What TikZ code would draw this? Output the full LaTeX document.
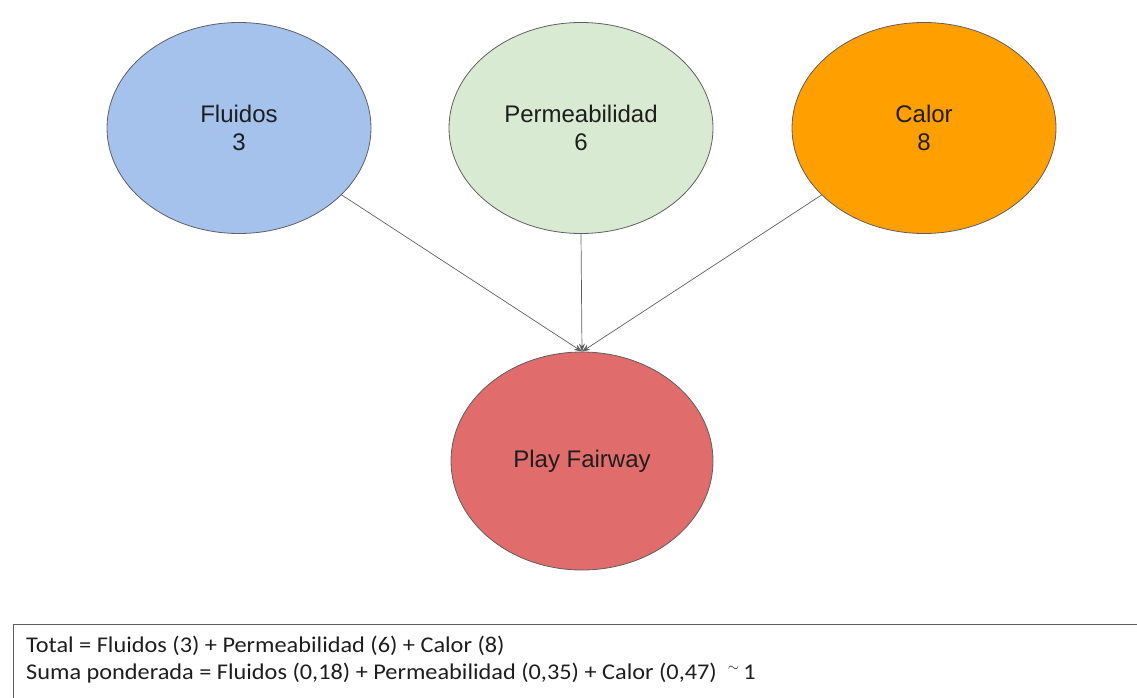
\documentclass[tikz,border=0pt]{standalone}
\usepackage{fontspec}
\setmainfont{Liberation Sans}
\newfontfamily\boxfont[FakeStretch=1.08]{Carlito}
\usetikzlibrary{positioning,shapes.geometric,arrows.meta}

\definecolor{fluidblue}{RGB}{164,194,236}
\definecolor{permgreen}{RGB}{217,234,211}
\definecolor{calororange}{RGB}{255,160,0}
\definecolor{playred}{RGB}{224,108,108}
\definecolor{edgegray}{RGB}{95,95,95}
\definecolor{textgray}{RGB}{30,30,30}

\newcommand{\TOPY}{128}
\newcommand{\ELLW}{264}
\newcommand{\ELLH}{211}

\begin{document}
\begin{tikzpicture}[x=1pt,y=-1pt]
\tikzstyle{every node}=[text=textgray]
\tikzstyle{bubble}=[ellipse,draw=edgegray,line width=0.8pt,minimum width=\ELLW pt,minimum height=\ELLH pt,align=center,inner sep=0pt,font=\fontsize{24}{28}\selectfont]
\tikzstyle{link}=[draw=edgegray,line width=0.7pt,-{Stealth[length=8pt,width=6pt]}]
\tikzstyle{sumline}=[anchor=base west,inner sep=0pt,font=\boxfont\fontsize{22.5}{27}\selectfont]
\useasboundingbox (0,0) rectangle (1137,698);

% Factors
	\node[bubble,fill=fluidblue] (flu) at (239,\TOPY) {Fluidos\\3};
	\node[bubble,fill=permgreen] (perm) at (581,\TOPY) {Permeabilidad\\6};
	\node[bubble,fill=calororange] (cal) at (924,\TOPY) {Calor\\8};

% Result
	\node[bubble,fill=playred,minimum width=262pt,minimum height=218pt] (pf) at (582,461) {Play Fairway};

% Links
	\draw[link] (flu) -- (pf.north);
	\draw[link] (perm.south) -- (pf.north);
	\draw[link] (cal) -- (pf.north);

% Summary box
	\draw[edgegray,line width=0.8pt] (13,710) -- (13,624) -- (1150,624);
	\node[sumline] (total) at (26,652) {Total = Fluidos (3) + Permeabilidad (6) + Calor (8)};
	\node[sumline] (suma) at (26,679) {Suma ponderada = Fluidos (0,18) + Permeabilidad (0,35) + Calor (0,47) \ ${}^\sim$\,1};

\end{tikzpicture}
\end{document}
